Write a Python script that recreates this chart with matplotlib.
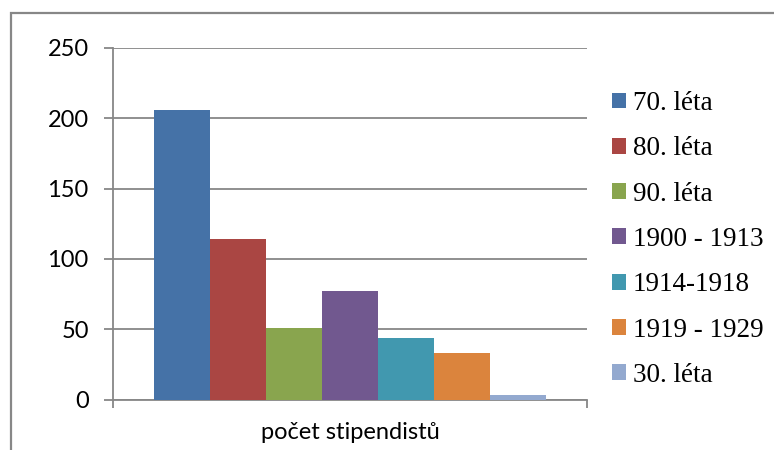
import numpy as np
import matplotlib.pyplot as plt
import matplotlib as mpl
from matplotlib.patches import Rectangle

# data
category = 'počet stipendistů'
series = ['70. léta', '80. léta', '90. léta', '1900 - 1913',
          '1914-1918', '1919 - 1929', '30. léta']
values = [206, 114, 51, 77, 44, 33, 3]
colors = ['#4572A7', '#AA4643', '#89A54E', '#71588F',
          '#4198AF', '#DB843D', '#93A9CF']

gray = '#878787'
mpl.rc('font', family=['Lato', 'DejaVu Sans'])

fig = plt.figure(figsize=(7.74, 4.5), dpi=100)
ax = fig.add_axes([113/774, 1 - 399.5/450, (587 - 113)/774, (399.5 - 48)/450])

# outer chart border (only left and top are visible in the crop)
fig.patches.append(Rectangle((11/774, -0.1), 1.5, 1 - 13/450 + 0.1,
                             transform=fig.transFigure, fill=False,
                             edgecolor=gray, linewidth=1.6, clip_on=False))

n = len(values)
w = 56/474
x0 = -n*w/2 + w/2
for i, (lab, v, c) in enumerate(zip(series, values, colors)):
    ax.bar(x0 + i*w, v, width=w, color=c, label=lab, zorder=3)

ax.set_xlim(-0.5, 0.5)
ax.set_ylim(0, 250)
ax.set_yticks([0, 50, 100, 150, 200, 250])
ax.yaxis.grid(True, color=gray, linewidth=1.3, zorder=0)
ax.set_axisbelow(True)

for s in ['top', 'right']:
    ax.spines[s].set_visible(False)
for s in ['left', 'bottom']:
    ax.spines[s].set_color(gray)
    ax.spines[s].set_linewidth(1.3)

ax.tick_params(axis='y', length=6.5, width=1.3, color=gray, pad=11, labelsize=17)
ax.set_xticks([0])
ax.set_xticklabels([category])
ax.tick_params(axis='x', which='major', length=0, pad=16, labelsize=17)
ax.set_xticks([-0.5, 0.5], minor=True)
ax.tick_params(axis='x', which='minor', length=5.5, width=1.3, color=gray)

leg = fig.legend(loc='upper left', bbox_to_anchor=(612/774, 1 - 91/450),
                 frameon=False, fontsize=19.5,
                 handlelength=0.52, handleheight=0.52, handletextpad=0.25,
                 labelspacing=0.75, borderpad=0, borderaxespad=0)
for t in leg.get_texts():
    t.set_fontfamily(['Liberation Serif', 'DejaVu Serif'])

fig.savefig('out.png', dpi=100)
